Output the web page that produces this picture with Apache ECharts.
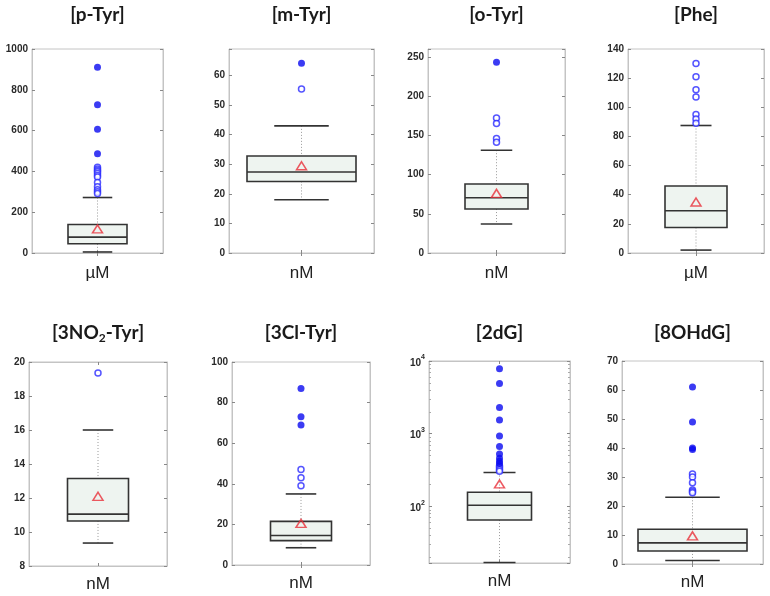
<!DOCTYPE html>
<html>
<head>
<meta charset="utf-8">
<script src="https://cdn.jsdelivr.net/npm/echarts@6/dist/echarts.min.js"></script>
<style>
  html, body { margin: 0; padding: 0; background: #fff; }
  #chart { width: 770px; height: 596px; }
</style>
</head>
<body>
<div id="chart"></div>
<script>
// ---------- data ----------
const titles = ['[p-Tyr]', '[m-Tyr]', '[o-Tyr]', '[Phe]', '[3NO{sub|2}-Tyr]', '[3Cl-Tyr]', '[2dG]', '[8OHdG]'];
const units = ['µM', 'nM', 'nM', 'µM', 'nM', 'nM', 'nM', 'nM'];
// [lower whisker, Q1, median, Q3, upper whisker]
const boxStats = [
  [5, 45, 78, 140, 272],
  [18, 24.2, 27.4, 32.8, 43],
  [37, 56, 70.5, 88, 131],
  [2, 17.5, 29, 46, 87.5],
  [9.35, 10.65, 11.05, 13.15, 16],
  [8.5, 12, 14.5, 21.5, 35],
  [17, 65, 104, 157, 293],
  [1.2, 4.5, 7.3, 12, 23]
];
const means = [118, 29.5, 76, 35, 12.1, 20.5, 204, 9.7];
const extremeOutliers = [
  [910, 727, 607, 487],
  [64.2],
  [243],
  [],
  [],
  [87, 73, 69],
  [7850, 4890, 2300, 1540, 930, 670, 526, 459, 420, 390],
  [61, 49, 40, 39.5]
];
const mildOutliers = [
  [420, 412, 405, 398, 390, 380, 372, 345, 325, 310, 300, 292],
  [55.5],
  [172, 165, 146, 141],
  [130, 121, 112, 107, 95, 92, 89],
  [19.35],
  [47, 43, 39],
  [360, 340, 320, 305],
  [31, 30, 28, 25.5, 25, 24.6]
];
const yMin = [0, 0, 0, 0, 8, 0, 16.7, 0];
const yMax = [1000, 69, 260, 140, 20, 100, 10000, 70];
const yInterval = [200, 10, 50, 20, 2, 20, null, 10];
const yLog = [false, false, false, false, false, false, true, false];

// ---------- layout ----------
const grids = [
  { left: 32, top: 49, width: 131, height: 204 },
  { left: 229, top: 49, width: 145, height: 204 },
  { left: 428, top: 49, width: 137, height: 204 },
  { left: 628, top: 49, width: 136, height: 204 },
  { left: 29, top: 362, width: 138, height: 204 },
  { left: 232, top: 362, width: 138, height: 203 },
  { left: 429, top: 361, width: 141, height: 202 },
  { left: 622, top: 361, width: 141, height: 203 }
];
const boxWidths = [59, 109, 63, 62, 61, 61, 64, 109];
const unitGap = [12, 12, 12, 12, 10, 10, 10, 10];
const titleY = [15, 15, 15, 15, 333, 333, 333, 333];

const chart = echarts.init(document.getElementById('chart'), null, { renderer: 'canvas' });

const gridOpts = [], xAxes = [], yAxes = [], series = [], titleOpts = [];
const tickColor = '#888';
const frameColor = '#c4c4c4';
const labelFont = 'Liberation Sans, Arial, sans-serif';
const labelStyle = { fontSize: 10, color: '#2a2a2a', fontWeight: 'bold', fontFamily: labelFont, margin: 4 };

function makeRender(boxW) {
  return function (params, api) {
    const x = api.value(0);
    const lo = api.coord([x, api.value(1)]);
    const q1 = api.coord([x, api.value(2)]);
    const md = api.coord([x, api.value(3)]);
    const q3 = api.coord([x, api.value(4)]);
    const hi = api.coord([x, api.value(5)]);
    const cx = q1[0];
    const hb = boxW / 2, hc = boxW / 4;
    const dark = '#333';
    const dotted = { stroke: '#9a9a9a', lineWidth: 1, lineDash: [1, 2] };
    const solid = { stroke: dark, lineWidth: 1.6 };
    return {
      type: 'group',
      children: [
        { type: 'line', shape: { x1: cx, y1: hi[1], x2: cx, y2: q3[1] }, style: dotted },
        { type: 'line', shape: { x1: cx, y1: q1[1], x2: cx, y2: lo[1] }, style: dotted },
        { type: 'line', shape: { x1: cx - hc, y1: hi[1], x2: cx + hc, y2: hi[1] }, style: solid },
        { type: 'line', shape: { x1: cx - hc, y1: lo[1], x2: cx + hc, y2: lo[1] }, style: solid },
        { type: 'rect', shape: { x: cx - hb, y: q3[1], width: boxW, height: q1[1] - q3[1] },
          style: { fill: '#eef4f0', stroke: dark, lineWidth: 1.6 } },
        { type: 'line', shape: { x1: cx - hb, y1: md[1], x2: cx + hb, y2: md[1] }, style: solid }
      ]
    };
  };
}

for (let i = 0; i < 8; i++) {
  const g = grids[i];
  gridOpts.push(Object.assign({ show: true, borderColor: frameColor, borderWidth: 1, backgroundColor: 'transparent', containLabel: false, outerBoundsMode: 'none' }, g));

  // bottom & top x axes
  xAxes.push({
    type: 'category', gridIndex: i, data: [''], position: 'bottom',
    axisLine: { show: true, lineStyle: { color: frameColor } },
    axisTick: { show: true, inside: true, length: 3, alignWithLabel: true, lineStyle: { color: tickColor } },
    axisLabel: { show: false },
    name: units[i], nameLocation: 'middle', nameGap: unitGap[i],
    nameTextStyle: { fontSize: 17, color: '#222', fontFamily: labelFont }
  });
  xAxes.push({
    type: 'category', gridIndex: i, data: [''], position: 'top',
    axisLine: { show: true, lineStyle: { color: frameColor } },
    axisTick: { show: true, inside: true, length: 3, alignWithLabel: true, lineStyle: { color: tickColor } },
    axisLabel: { show: false }
  });

  const intv = yInterval[i];
  const common = {
    gridIndex: i, min: yMin[i], max: yMax[i],
    splitLine: { show: false },
    axisLine: { show: true, lineStyle: { color: frameColor } },
    axisTick: { show: true, inside: true, length: 3, lineStyle: { color: tickColor } }
  };
  if (yLog[i]) {
    common.type = 'log';
    common.logBase = 10;
    common.minorTick = { show: true, splitNumber: 9, length: 2, lineStyle: { color: '#aaa' } };
  } else {
    common.type = 'value';
    common.interval = intv;
  }
  let leftLabel;
  if (yLog[i]) {
    leftLabel = Object.assign({}, labelStyle, {
      formatter: function (v) {
        const p = Math.log10(v);
        if (Math.abs(p - Math.round(p)) > 1e-6) return '';
        return '{b|10}{s|' + Math.round(p) + '}';
      },
      rich: {
        b: { fontSize: 10, fontWeight: 'bold', color: '#2a2a2a', fontFamily: labelFont, lineHeight: 14, verticalAlign: 'bottom' },
        s: { fontSize: 7, fontWeight: 'bold', color: '#2a2a2a', fontFamily: labelFont, lineHeight: 7, verticalAlign: 'top' }
      }
    });
  } else {
    leftLabel = Object.assign({}, labelStyle, {
      formatter: function (v) {
        return Math.abs(v / intv - Math.round(v / intv)) < 1e-9 ? String(v) : '';
      }
    });
  }
  yAxes.push(Object.assign({}, common, { position: 'left', axisLabel: leftLabel }));
  yAxes.push(Object.assign({}, common, { position: 'right', axisLabel: { show: false } }));

  series.push({
    type: 'custom', xAxisIndex: 2 * i, yAxisIndex: 2 * i,
    renderItem: makeRender(boxWidths[i]),
    encode: { x: 0, y: [1, 2, 3, 4, 5] },
    data: [[0].concat(boxStats[i])],
    z: 2, silent: true
  });
  series.push({
    type: 'scatter', xAxisIndex: 2 * i, yAxisIndex: 2 * i,
    symbol: 'circle', symbolSize: 6,
    itemStyle: { color: '#fff', borderColor: '#2a2aff', borderWidth: 1.5 },
    data: mildOutliers[i].map(v => [0, v]), z: 3, silent: true
  });
  series.push({
    type: 'scatter', xAxisIndex: 2 * i, yAxisIndex: 2 * i,
    symbol: 'circle', symbolSize: 7,
    itemStyle: { color: '#0a0af0' },
    data: extremeOutliers[i].map(v => [0, v]), z: 4, silent: true
  });
  series.push({
    type: 'scatter', xAxisIndex: 2 * i, yAxisIndex: 2 * i,
    symbol: 'triangle', symbolSize: [10, 8],
    itemStyle: { color: 'rgba(0,0,0,0)', borderColor: '#e8303a', borderWidth: 1.5 },
    data: [[0, means[i]]], z: 5, silent: true
  });

  titleOpts.push({
    text: titles[i],
    left: g.left + g.width / 2, top: titleY[i],
    textAlign: 'center', textVerticalAlign: 'middle', padding: 0,
    textStyle: {
      fontSize: 19, fontWeight: 'bold', fontFamily: 'Lato, Open Sans, sans-serif', color: '#1a1a1a', lineHeight: 22,
      rich: { sub: { fontSize: 12, fontWeight: 'bold', fontFamily: 'Lato, Open Sans, sans-serif', color: '#1a1a1a', verticalAlign: 'bottom', lineHeight: 12 } }
    }
  });
}

chart.setOption({
  animation: false,
  backgroundColor: '#fff',
  title: titleOpts,
  grid: gridOpts,
  xAxis: xAxes,
  yAxis: yAxes,
  series: series
});
</script>
</body>
</html>
